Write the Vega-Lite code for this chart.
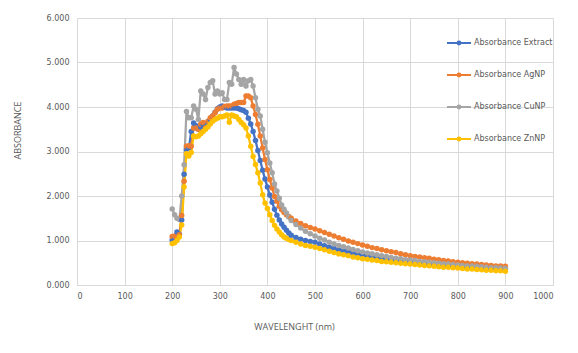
{
  "$schema": "https://vega.github.io/schema/vega-lite/v6.json",
  "width": 476,
  "height": 267,
  "autosize": {"type": "none"},
  "padding": {"left": 77, "top": 18, "right": 25, "bottom": 68},
  "background": "white",
  "config": {
    "view": {"stroke": null},
    "font": "Open Sans",
    "axis": {
      "labelColor": "#595959",
      "labelFont": "DejaVu Sans",
      "labelFontSize": 8,
      "titleColor": "#595959",
      "titleFont": "Open Sans",
      "titleFontSize": 9,
      "titleFontWeight": "normal",
      "gridColor": "#D9D9D9",
      "gridWidth": 1,
      "ticks": false
    },
    "legend": {
      "labelColor": "#595959",
      "labelFont": "DejaVu Sans",
      "labelFontSize": 8
    }
  },
  "data": {
    "values": [
      {"w":200,"Absorbance Extract":1.01,"Absorbance AgNP":1.09,"Absorbance CuNP":1.71,"Absorbance ZnNP":0.93},
      {"w":205,"Absorbance Extract":1.05,"Absorbance AgNP":1.10,"Absorbance CuNP":1.58,"Absorbance ZnNP":0.95},
      {"w":210,"Absorbance Extract":1.19,"Absorbance AgNP":1.08,"Absorbance CuNP":1.50,"Absorbance ZnNP":1.00},
      {"w":215,"Absorbance Extract":1.14,"Absorbance AgNP":1.13,"Absorbance CuNP":1.47,"Absorbance ZnNP":1.08},
      {"w":220,"Absorbance Extract":1.46,"Absorbance AgNP":1.56,"Absorbance CuNP":2.00,"Absorbance ZnNP":1.35},
      {"w":225,"Absorbance Extract":2.49,"Absorbance AgNP":2.33,"Absorbance CuNP":2.70,"Absorbance ZnNP":2.20},
      {"w":230,"Absorbance Extract":3.05,"Absorbance AgNP":3.12,"Absorbance CuNP":3.90,"Absorbance ZnNP":2.95},
      {"w":235,"Absorbance Extract":3.08,"Absorbance AgNP":3.13,"Absorbance CuNP":3.76,"Absorbance ZnNP":2.90},
      {"w":240,"Absorbance Extract":3.45,"Absorbance AgNP":3.12,"Absorbance CuNP":3.76,"Absorbance ZnNP":2.98},
      {"w":245,"Absorbance Extract":3.64,"Absorbance AgNP":3.53,"Absorbance CuNP":4.02,"Absorbance ZnNP":3.35},
      {"w":250,"Absorbance Extract":3.58,"Absorbance AgNP":3.53,"Absorbance CuNP":3.95,"Absorbance ZnNP":3.33},
      {"w":255,"Absorbance Extract":3.50,"Absorbance AgNP":3.50,"Absorbance CuNP":3.72,"Absorbance ZnNP":3.35},
      {"w":260,"Absorbance Extract":3.55,"Absorbance AgNP":3.61,"Absorbance CuNP":4.36,"Absorbance ZnNP":3.40},
      {"w":265,"Absorbance Extract":3.60,"Absorbance AgNP":3.65,"Absorbance CuNP":4.29,"Absorbance ZnNP":3.45},
      {"w":270,"Absorbance Extract":3.55,"Absorbance AgNP":3.53,"Absorbance CuNP":4.17,"Absorbance ZnNP":3.50},
      {"w":275,"Absorbance Extract":3.65,"Absorbance AgNP":3.68,"Absorbance CuNP":4.44,"Absorbance ZnNP":3.55},
      {"w":280,"Absorbance Extract":3.72,"Absorbance AgNP":3.76,"Absorbance CuNP":4.55,"Absorbance ZnNP":3.62},
      {"w":285,"Absorbance Extract":3.80,"Absorbance AgNP":3.80,"Absorbance CuNP":4.59,"Absorbance ZnNP":3.68},
      {"w":290,"Absorbance Extract":3.88,"Absorbance AgNP":3.87,"Absorbance CuNP":4.29,"Absorbance ZnNP":3.72},
      {"w":295,"Absorbance Extract":3.96,"Absorbance AgNP":3.95,"Absorbance CuNP":4.36,"Absorbance ZnNP":3.75},
      {"w":300,"Absorbance Extract":4.00,"Absorbance AgNP":3.98,"Absorbance CuNP":4.29,"Absorbance ZnNP":3.78},
      {"w":305,"Absorbance Extract":4.02,"Absorbance AgNP":3.98,"Absorbance CuNP":4.32,"Absorbance ZnNP":3.78},
      {"w":310,"Absorbance Extract":4.00,"Absorbance AgNP":4.01,"Absorbance CuNP":4.17,"Absorbance ZnNP":3.80},
      {"w":315,"Absorbance Extract":3.98,"Absorbance AgNP":4.02,"Absorbance CuNP":4.17,"Absorbance ZnNP":3.82},
      {"w":320,"Absorbance Extract":3.98,"Absorbance AgNP":4.02,"Absorbance CuNP":4.55,"Absorbance ZnNP":3.66},
      {"w":325,"Absorbance Extract":3.98,"Absorbance AgNP":4.02,"Absorbance CuNP":4.51,"Absorbance ZnNP":3.82},
      {"w":330,"Absorbance Extract":3.98,"Absorbance AgNP":4.06,"Absorbance CuNP":4.89,"Absorbance ZnNP":3.80},
      {"w":335,"Absorbance Extract":3.98,"Absorbance AgNP":4.08,"Absorbance CuNP":4.74,"Absorbance ZnNP":3.78},
      {"w":340,"Absorbance Extract":3.96,"Absorbance AgNP":4.10,"Absorbance CuNP":4.62,"Absorbance ZnNP":3.72},
      {"w":345,"Absorbance Extract":3.94,"Absorbance AgNP":4.10,"Absorbance CuNP":4.51,"Absorbance ZnNP":3.65},
      {"w":350,"Absorbance Extract":3.92,"Absorbance AgNP":4.10,"Absorbance CuNP":4.62,"Absorbance ZnNP":3.60},
      {"w":355,"Absorbance Extract":3.88,"Absorbance AgNP":4.25,"Absorbance CuNP":4.47,"Absorbance ZnNP":3.53},
      {"w":360,"Absorbance Extract":3.75,"Absorbance AgNP":4.25,"Absorbance CuNP":4.59,"Absorbance ZnNP":3.35},
      {"w":365,"Absorbance Extract":3.62,"Absorbance AgNP":4.21,"Absorbance CuNP":4.62,"Absorbance ZnNP":3.12},
      {"w":370,"Absorbance Extract":3.45,"Absorbance AgNP":4.02,"Absorbance CuNP":4.47,"Absorbance ZnNP":2.89},
      {"w":375,"Absorbance Extract":3.25,"Absorbance AgNP":3.83,"Absorbance CuNP":4.21,"Absorbance ZnNP":2.71},
      {"w":380,"Absorbance Extract":3.02,"Absorbance AgNP":3.61,"Absorbance CuNP":3.95,"Absorbance ZnNP":2.52},
      {"w":385,"Absorbance Extract":2.80,"Absorbance AgNP":3.35,"Absorbance CuNP":3.80,"Absorbance ZnNP":2.29},
      {"w":390,"Absorbance Extract":2.58,"Absorbance AgNP":3.08,"Absorbance CuNP":3.50,"Absorbance ZnNP":2.03},
      {"w":395,"Absorbance Extract":2.38,"Absorbance AgNP":2.82,"Absorbance CuNP":3.21,"Absorbance ZnNP":1.84},
      {"w":400,"Absorbance Extract":2.20,"Absorbance AgNP":2.59,"Absorbance CuNP":2.97,"Absorbance ZnNP":1.72},
      {"w":405,"Absorbance Extract":2.02,"Absorbance AgNP":2.37,"Absorbance CuNP":2.74,"Absorbance ZnNP":1.58},
      {"w":410,"Absorbance Extract":1.86,"Absorbance AgNP":2.18,"Absorbance CuNP":2.52,"Absorbance ZnNP":1.45},
      {"w":415,"Absorbance Extract":1.70,"Absorbance AgNP":1.99,"Absorbance CuNP":2.27,"Absorbance ZnNP":1.34},
      {"w":420,"Absorbance Extract":1.57,"Absorbance AgNP":1.88,"Absorbance CuNP":2.11,"Absorbance ZnNP":1.26},
      {"w":425,"Absorbance Extract":1.46,"Absorbance AgNP":1.77,"Absorbance CuNP":1.95,"Absorbance ZnNP":1.19},
      {"w":430,"Absorbance Extract":1.37,"Absorbance AgNP":1.69,"Absorbance CuNP":1.80,"Absorbance ZnNP":1.13},
      {"w":435,"Absorbance Extract":1.30,"Absorbance AgNP":1.63,"Absorbance CuNP":1.70,"Absorbance ZnNP":1.08},
      {"w":440,"Absorbance Extract":1.23,"Absorbance AgNP":1.58,"Absorbance CuNP":1.62,"Absorbance ZnNP":1.05},
      {"w":445,"Absorbance Extract":1.17,"Absorbance AgNP":1.54,"Absorbance CuNP":1.53,"Absorbance ZnNP":1.02},
      {"w":450,"Absorbance Extract":1.12,"Absorbance AgNP":1.50,"Absorbance CuNP":1.45,"Absorbance ZnNP":1.00},
      {"w":460,"Absorbance Extract":1.07,"Absorbance AgNP":1.44,"Absorbance CuNP":1.36,"Absorbance ZnNP":0.96},
      {"w":470,"Absorbance Extract":1.03,"Absorbance AgNP":1.38,"Absorbance CuNP":1.28,"Absorbance ZnNP":0.92},
      {"w":480,"Absorbance Extract":1.00,"Absorbance AgNP":1.33,"Absorbance CuNP":1.21,"Absorbance ZnNP":0.89},
      {"w":490,"Absorbance Extract":0.98,"Absorbance AgNP":1.29,"Absorbance CuNP":1.15,"Absorbance ZnNP":0.87},
      {"w":500,"Absorbance Extract":0.96,"Absorbance AgNP":1.26,"Absorbance CuNP":1.10,"Absorbance ZnNP":0.85},
      {"w":510,"Absorbance Extract":0.92,"Absorbance AgNP":1.22,"Absorbance CuNP":1.05,"Absorbance ZnNP":0.82},
      {"w":520,"Absorbance Extract":0.88,"Absorbance AgNP":1.18,"Absorbance CuNP":1.01,"Absorbance ZnNP":0.79},
      {"w":530,"Absorbance Extract":0.85,"Absorbance AgNP":1.14,"Absorbance CuNP":0.96,"Absorbance ZnNP":0.76},
      {"w":540,"Absorbance Extract":0.82,"Absorbance AgNP":1.10,"Absorbance CuNP":0.92,"Absorbance ZnNP":0.73},
      {"w":550,"Absorbance Extract":0.79,"Absorbance AgNP":1.06,"Absorbance CuNP":0.89,"Absorbance ZnNP":0.70},
      {"w":560,"Absorbance Extract":0.77,"Absorbance AgNP":1.03,"Absorbance CuNP":0.86,"Absorbance ZnNP":0.68},
      {"w":570,"Absorbance Extract":0.75,"Absorbance AgNP":0.99,"Absorbance CuNP":0.83,"Absorbance ZnNP":0.66},
      {"w":580,"Absorbance Extract":0.72,"Absorbance AgNP":0.96,"Absorbance CuNP":0.80,"Absorbance ZnNP":0.63},
      {"w":590,"Absorbance Extract":0.70,"Absorbance AgNP":0.93,"Absorbance CuNP":0.77,"Absorbance ZnNP":0.61},
      {"w":600,"Absorbance Extract":0.68,"Absorbance AgNP":0.90,"Absorbance CuNP":0.74,"Absorbance ZnNP":0.59},
      {"w":610,"Absorbance Extract":0.66,"Absorbance AgNP":0.87,"Absorbance CuNP":0.72,"Absorbance ZnNP":0.58},
      {"w":620,"Absorbance Extract":0.64,"Absorbance AgNP":0.84,"Absorbance CuNP":0.70,"Absorbance ZnNP":0.56},
      {"w":630,"Absorbance Extract":0.62,"Absorbance AgNP":0.82,"Absorbance CuNP":0.68,"Absorbance ZnNP":0.55},
      {"w":640,"Absorbance Extract":0.61,"Absorbance AgNP":0.79,"Absorbance CuNP":0.66,"Absorbance ZnNP":0.53},
      {"w":650,"Absorbance Extract":0.59,"Absorbance AgNP":0.77,"Absorbance CuNP":0.64,"Absorbance ZnNP":0.52},
      {"w":660,"Absorbance Extract":0.58,"Absorbance AgNP":0.75,"Absorbance CuNP":0.62,"Absorbance ZnNP":0.51},
      {"w":670,"Absorbance Extract":0.56,"Absorbance AgNP":0.73,"Absorbance CuNP":0.60,"Absorbance ZnNP":0.50},
      {"w":680,"Absorbance Extract":0.55,"Absorbance AgNP":0.70,"Absorbance CuNP":0.59,"Absorbance ZnNP":0.49},
      {"w":690,"Absorbance Extract":0.53,"Absorbance AgNP":0.68,"Absorbance CuNP":0.57,"Absorbance ZnNP":0.48},
      {"w":700,"Absorbance Extract":0.52,"Absorbance AgNP":0.66,"Absorbance CuNP":0.56,"Absorbance ZnNP":0.47},
      {"w":710,"Absorbance Extract":0.51,"Absorbance AgNP":0.64,"Absorbance CuNP":0.55,"Absorbance ZnNP":0.46},
      {"w":720,"Absorbance Extract":0.50,"Absorbance AgNP":0.63,"Absorbance CuNP":0.53,"Absorbance ZnNP":0.45},
      {"w":730,"Absorbance Extract":0.49,"Absorbance AgNP":0.61,"Absorbance CuNP":0.52,"Absorbance ZnNP":0.44},
      {"w":740,"Absorbance Extract":0.47,"Absorbance AgNP":0.60,"Absorbance CuNP":0.51,"Absorbance ZnNP":0.43},
      {"w":750,"Absorbance Extract":0.46,"Absorbance AgNP":0.58,"Absorbance CuNP":0.50,"Absorbance ZnNP":0.42},
      {"w":760,"Absorbance Extract":0.45,"Absorbance AgNP":0.57,"Absorbance CuNP":0.49,"Absorbance ZnNP":0.41},
      {"w":770,"Absorbance Extract":0.44,"Absorbance AgNP":0.55,"Absorbance CuNP":0.48,"Absorbance ZnNP":0.40},
      {"w":780,"Absorbance Extract":0.44,"Absorbance AgNP":0.54,"Absorbance CuNP":0.47,"Absorbance ZnNP":0.40},
      {"w":790,"Absorbance Extract":0.43,"Absorbance AgNP":0.52,"Absorbance CuNP":0.46,"Absorbance ZnNP":0.39},
      {"w":800,"Absorbance Extract":0.42,"Absorbance AgNP":0.51,"Absorbance CuNP":0.45,"Absorbance ZnNP":0.38},
      {"w":810,"Absorbance Extract":0.41,"Absorbance AgNP":0.50,"Absorbance CuNP":0.44,"Absorbance ZnNP":0.37},
      {"w":820,"Absorbance Extract":0.40,"Absorbance AgNP":0.49,"Absorbance CuNP":0.43,"Absorbance ZnNP":0.36},
      {"w":830,"Absorbance Extract":0.40,"Absorbance AgNP":0.48,"Absorbance CuNP":0.43,"Absorbance ZnNP":0.36},
      {"w":840,"Absorbance Extract":0.39,"Absorbance AgNP":0.47,"Absorbance CuNP":0.42,"Absorbance ZnNP":0.35},
      {"w":850,"Absorbance Extract":0.38,"Absorbance AgNP":0.46,"Absorbance CuNP":0.41,"Absorbance ZnNP":0.34},
      {"w":860,"Absorbance Extract":0.37,"Absorbance AgNP":0.45,"Absorbance CuNP":0.40,"Absorbance ZnNP":0.33},
      {"w":870,"Absorbance Extract":0.37,"Absorbance AgNP":0.44,"Absorbance CuNP":0.39,"Absorbance ZnNP":0.33},
      {"w":880,"Absorbance Extract":0.36,"Absorbance AgNP":0.43,"Absorbance CuNP":0.39,"Absorbance ZnNP":0.32},
      {"w":890,"Absorbance Extract":0.36,"Absorbance AgNP":0.43,"Absorbance CuNP":0.38,"Absorbance ZnNP":0.32},
      {"w":900,"Absorbance Extract":0.35,"Absorbance AgNP":0.42,"Absorbance CuNP":0.37,"Absorbance ZnNP":0.31}
    ]
  },
  "transform": [
    {"fold": ["Absorbance Extract", "Absorbance AgNP", "Absorbance CuNP", "Absorbance ZnNP"], "as": ["series", "absorbance"]}
  ],
  "mark": {"type": "line", "strokeWidth": 2.25, "point": {"filled": true, "size": 30, "opacity": 1}},
  "encoding": {
    "x": {
      "field": "w",
      "type": "quantitative",
      "scale": {"domain": [0, 1000], "nice": false},
      "axis": {
        "title": "WAVELENGHT (nm)",
        "values": [0, 100, 200, 300, 400, 500, 600, 700, 800, 900, 1000],
        "format": "d",
        "labelPadding": 7,
        "domainColor": "#D9D9D9",
        "titleX": 217,
        "titleY": 41,
        "titleBaseline": "middle"
      }
    },
    "y": {
      "field": "absorbance",
      "type": "quantitative",
      "scale": {"domain": [0, 6], "nice": false},
      "axis": {
        "title": "ABSORBANCE",
        "values": [0, 1, 2, 3, 4, 5, 6],
        "format": ".3f",
        "domain": false,
        "labelPadding": 8,
        "titleX": -60,
        "titleY": 112,
        "titleAngle": -90,
        "titleBaseline": "middle"
      }
    },
    "color": {
      "field": "series",
      "type": "nominal",
      "sort": ["Absorbance Extract", "Absorbance AgNP", "Absorbance CuNP", "Absorbance ZnNP"],
      "scale": {
        "domain": ["Absorbance Extract", "Absorbance AgNP", "Absorbance CuNP", "Absorbance ZnNP"],
        "range": ["#4472C4", "#ED7D31", "#A5A5A5", "#FFC000"]
      },
      "legend": {
        "title": null,
        "orient": "none",
        "legendX": 369,
        "legendY": 12,
        "symbolType": "M-1,0H1M-0.12,0A0.12,0.12 0 1,1 0.12,0A0.12,0.12 0 1,1 -0.12,0Z",
        "symbolSize": 576,
        "symbolStrokeWidth": 2,
        "rowPadding": 13,
        "labelOffset": 2
      }
    }
  }
}
